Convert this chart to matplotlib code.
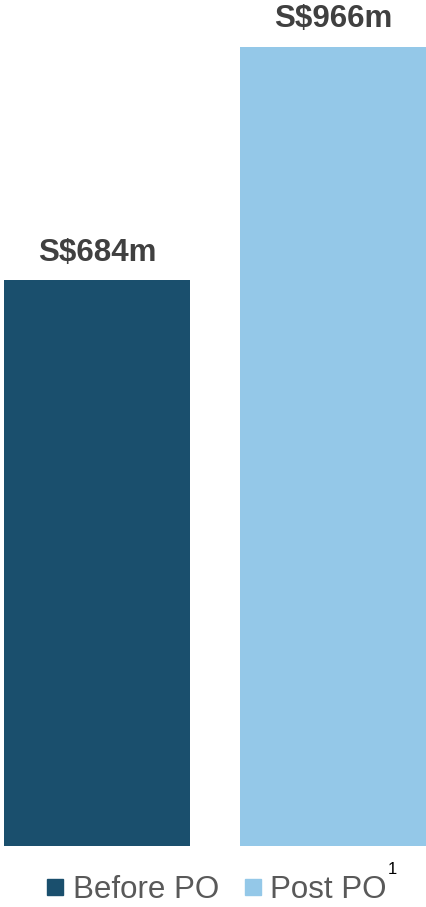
import matplotlib.pyplot as plt
from matplotlib.lines import Line2D

plt.rcParams['font.family'] = ['Liberation Sans', 'DejaVu Sans']

categories = ["Before PO", "Post PO"]
values = [684, 966]
labels = ["S$684m", "S$966m"]
colors = ["#1a4f6d", "#94c8e8"]

fig = plt.figure(figsize=(4.26, 9.07), dpi=100)
ax = fig.add_axes([0, 61 / 907, 1, 846 / 907])

x = range(len(values))
ax.bar(x, values, width=0.79, color=colors)
for xi, v, lab in zip(x, values, labels):
    ax.annotate(lab, (xi, v), xytext=(0, 9), textcoords="offset points",
                ha="center", va="bottom", fontsize=22.5, fontweight="bold", color="#404040")

ax.set_xlim(-0.412, 1.394)
ax.set_ylim(0, 966 * 846 / 799)
ax.axis("off")

handles = [Line2D([], [], marker="s", linestyle="none", markersize=11.5,
                  markerfacecolor=c, markeredgecolor=c) for c in colors]
fig.legend(handles, categories, loc="center", bbox_to_anchor=(0.508, 1 - 890 / 907),
           ncol=2, frameon=False, fontsize=22.5, labelcolor="#595959",
           handlelength=0.6, handletextpad=0.25, columnspacing=0.8, borderpad=0)
fig.text(392 / 426, 1 - 869 / 907, "1", fontsize=12, color="black", ha="center", va="center")

fig.savefig("out.png", dpi=100)
